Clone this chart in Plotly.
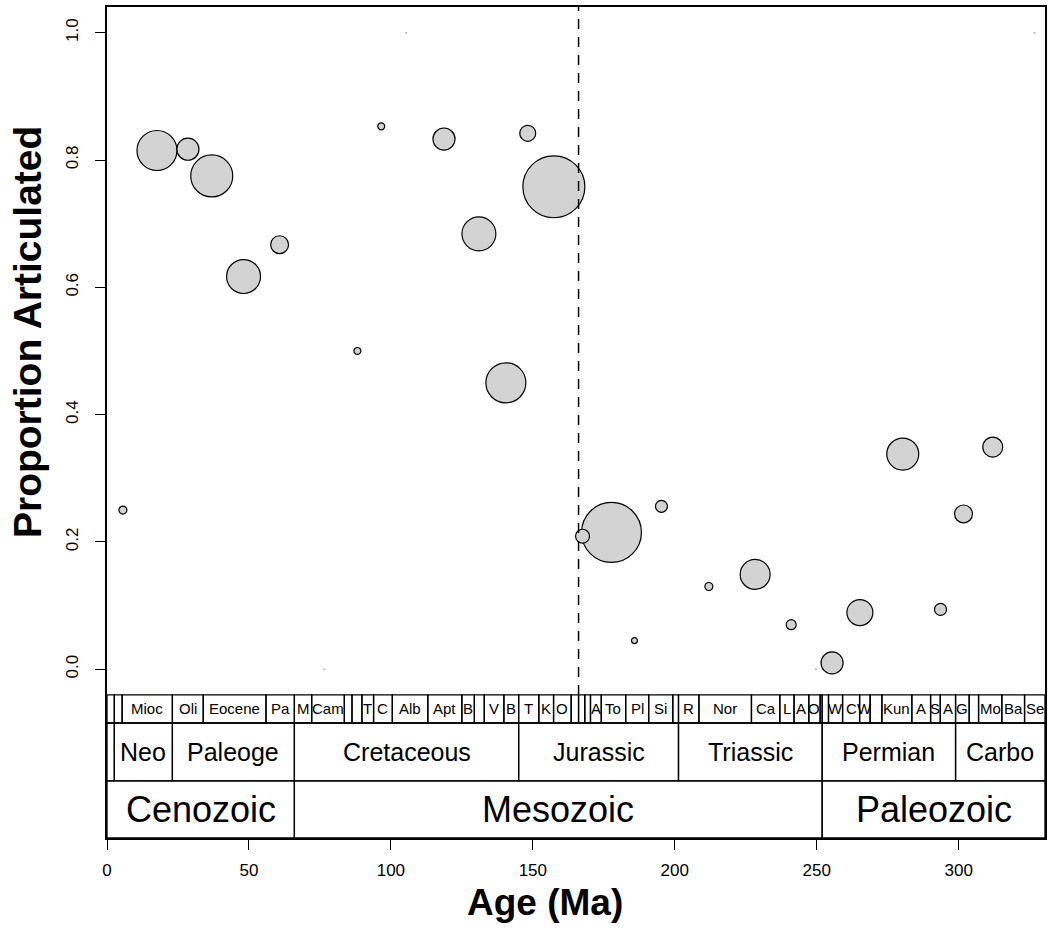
import plotly.graph_objects as go

# ---------------- data ----------------
age_ma = [5.6, 17.6, 28.5, 36.9, 48.1, 60.8, 88.2, 96.6, 118.7, 131.0, 140.5, 148.2, 157.4,
          167.5, 177.7, 185.8, 195.3, 212.0, 228.3, 241.0, 255.4, 265.2, 280.3, 293.6, 301.7, 312.0,
          105.4, 326.7, 76.6, 249.7]
prop_artic = [0.25, 0.815, 0.817, 0.775, 0.617, 0.667, 0.50, 0.853, 0.833, 0.684, 0.45, 0.842, 0.758,
              0.209, 0.215, 0.045, 0.256, 0.13, 0.149, 0.07, 0.01, 0.089, 0.338, 0.094, 0.244, 0.349,
              1.0, 1.0, 0.0, 0.0]
sample_n = [25, 625, 190, 690, 450, 125, 19, 19, 190, 450, 625, 100, 1500,
            76, 1400, 14, 56, 25, 350, 39, 190, 264, 400, 56, 125, 156,
            0.3, 0.3, 0.3, 0.3]

stage_bounds = [0, 2.58, 5.333, 23.03, 33.9, 56.0, 66.0, 72.1, 83.6, 86.3, 89.8, 93.9, 100.5, 113.0,
                125.0, 129.4, 132.9, 139.8, 145.0, 152.1, 157.3, 163.5, 166.1, 168.3, 170.3, 174.1,
                182.7, 190.8, 199.3, 201.3, 208.5, 227.0, 237.0, 242.0, 247.2, 251.2, 251.902, 254.14,
                259.1, 265.1, 268.8, 272.95, 283.5, 290.1, 293.52, 298.9, 303.7, 307.0, 315.2, 323.2, 330.9]
stage_labels = ["", "", "Mioc", "Oli", "Eocene", "Pa", "M", "Cam", "", "", "T", "C", "Alb",
                "Apt", "B", "", "V", "B", "T", "K", "O", "", "", "", "A",
                "To", "Pl", "Si", "", "R", "Nor", "Ca", "L", "A", "O", "", "",
                "W", "C", "W", "", "Kun", "A", "S", "A", "G", "", "Mo", "Ba", "Se"]

period_bounds = [0, 2.58, 23.03, 66.0, 145.0, 201.3, 251.902, 298.9, 358.9]
period_labels = ["", "Neo", "Paleoge", "Cretaceous", "Jurassic", "Triassic", "Permian", "Carbo"]

era_bounds = [0, 66.0, 251.902, 541.0]
era_labels = ["Cenozoic", "Mesozoic", "Paleozoic"]

y_ticks = [0.0, 0.2, 0.4, 0.6, 0.8, 1.0]
x_ticks = [0, 50, 100, 150, 200, 250, 300]
divider_age = 166.1

# ---------------- layout constants ----------------
X_MAX = 330.4
Y_MIN, Y_MAX = -0.2651, 1.0404
ROWS = [(-0.0404, -0.0844), (-0.0844, -0.1755), (-0.1755, Y_MIN)]
FONT = "Liberation Sans, Arial, Helvetica, sans-serif"

# draw large bubbles first so small ones stay visible on top
order = sorted(range(len(sample_n)), key=lambda i: -sample_n[i])
xs = [age_ma[i] for i in order]
ys = [prop_artic[i] for i in order]
ns = [sample_n[i] for i in order]
edge = ["black" if n >= 1 else "#b0b0b0" for n in ns]

fig = go.Figure()
fig.add_trace(go.Scatter(
    x=xs, y=ys, mode="markers",
    marker=dict(size=ns, sizemode="area", sizeref=2 / 2.56, sizemin=0, opacity=1,
                color="#d3d3d3", line=dict(color=edge, width=1.2)),
    hoverinfo="skip", showlegend=False, cliponaxis=False))

shapes = []
annotations = []

def add_row(bounds, labels, row, fsize):
    y0, y1 = row
    for i, lab in enumerate(labels):
        a, b = bounds[i], min(bounds[i + 1], X_MAX)
        if a >= X_MAX:
            continue
        shapes.append(dict(type="rect", xref="x", yref="y", x0=a, x1=b, y0=y0, y1=y1,
                           line=dict(color="black", width=1.3), fillcolor="rgba(0,0,0,0)"))
        if lab:
            annotations.append(dict(x=(a + b) / 2, y=(y0 + y1) / 2, xref="x", yref="y", text=lab,
                                    showarrow=False, font=dict(size=fsize, color="black", family=FONT)))

add_row(stage_bounds, stage_labels, ROWS[0], 15)
add_row(period_bounds, period_labels, ROWS[1], 25)
add_row(era_bounds, era_labels, ROWS[2], 36)

shapes.append(dict(type="line", xref="x", yref="y", x0=divider_age, x1=divider_age,
                   y0=ROWS[0][0], y1=Y_MAX, line=dict(color="black", width=1.5, dash="10px,8px")))

annotations.append(dict(text="<b>Proportion Articulated</b>", xref="paper", yref="y", x=(28 - 107) / 940,
                        y=0.53, xanchor="center", yanchor="middle",
                        textangle=-90, showarrow=False, font=dict(size=39, family=FONT, color="black")))
annotations.append(dict(text="<b>Age (Ma)</b>", xref="paper", yref="paper", x=(546 - 107) / 940,
                        y=-(903 - 838) / 831, xanchor="center", yanchor="middle",
                        showarrow=False, font=dict(size=37, family=FONT, color="black")))

fig.update_layout(
    width=1049, height=930,
    margin=dict(l=107, r=2, t=7, b=92, pad=0),
    paper_bgcolor="white", plot_bgcolor="white",
    shapes=shapes, annotations=annotations,
    xaxis=dict(range=[0, X_MAX], tickvals=x_ticks, ticks="outside", ticklen=10, tickwidth=1.3,
               tickcolor="black", showline=True, linecolor="black", linewidth=1.5, mirror=True,
               showgrid=False, zeroline=False, ticklabelstandoff=6,
               tickfont=dict(size=17, family=FONT, color="black")),
    yaxis=dict(range=[Y_MIN, Y_MAX], tickvals=y_ticks, ticktext=["0.0", "0.2", "0.4", "0.6", "0.8", "1.0"],
               ticks="outside", ticklen=10, tickwidth=1.3, tickcolor="black", tickangle=-90,
               showline=True, linecolor="black", linewidth=1.5, mirror=True, ticklabelstandoff=10,
               showgrid=False, zeroline=False, tickfont=dict(size=17, family=FONT, color="black")),
)
fig.write_html("out.html")
